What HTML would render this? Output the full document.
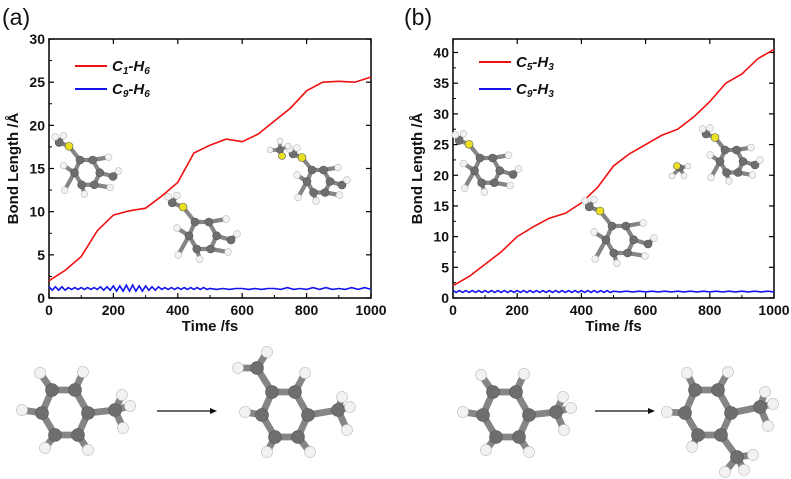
<!DOCTYPE html>
<html><head><meta charset="utf-8">
<style>
body{margin:0;background:#fff;}
svg{display:block;font-family:"Liberation Sans",sans-serif;}
.tk{font-size:14px;font-weight:bold;fill:#111;}
.ttl{font-size:15px;font-weight:bold;fill:#111;}
</style></head>
<body>
<svg id="fig" width="791" height="479" viewBox="0 0 791 479">
<text x="2" y="25" font-size="23" fill="#111">(a)</text>
<text x="404" y="25" font-size="23" fill="#111">(b)</text>
<g id="ca"></g>
<g id="cb"></g>
<g id="mols"></g>
</svg>
<script>
const timeA = [0,50,100,150,200,250,300,350,400,450,500,550,600,650,700,750,800,850,900,950,1000];
const c1h6 = [2,3.2,4.8,7.8,9.6,10.1,10.4,11.8,13.4,16.8,17.7,18.4,18.1,19.0,20.5,22.0,24.0,25.0,25.1,25.0,25.6];
const c5h3 = [2,3.5,5.5,7.5,10,11.6,13,13.8,15.5,18,21.5,23.5,25,26.5,27.5,29.5,32,35,36.5,39,40.5];
const timeB = [0,10,20,30,40,50,60,70,80,90,100,110,120,130,140,150,160,170,180,190,200,210,220,230,240,250,260,270,280,290,300,310,320,330,340,350,360,370,380,390,400,410,420,430,440,450,460,470,480,490,500,520,540,560,580,600,620,640,660,680,700,720,740,760,780,800,820,840,860,880,900,920,940,960,980,1000];
const c9h6 = [1.3,0.9,1.3,0.9,1.3,0.9,1.2,1.0,1.2,1.0,1.2,1.0,1.2,1.0,1.2,1.0,1.3,0.9,1.3,0.9,1.4,0.8,1.4,0.8,1.5,0.8,1.5,0.8,1.4,0.8,1.4,0.9,1.3,0.9,1.3,1.0,1.2,1.0,1.2,1.0,1.2,1.0,1.2,1.0,1.2,1.0,1.2,1.0,1.2,1.0,1.1,1.0,1.1,1.0,1.1,1.1,1.0,1.1,1.0,1.1,1.1,1.0,1.2,1.0,1.1,1.0,1.2,1.0,1.2,1.0,1.1,1.0,1.2,1.0,1.2,1.0];
const c9h3 = [1.2,0.9,1.2,0.9,1.2,0.9,1.2,0.9,1.2,0.9,1.2,0.9,1.2,0.9,1.2,0.9,1.2,0.9,1.2,0.9,1.2,0.9,1.2,0.9,1.2,0.9,1.2,0.9,1.2,0.9,1.2,0.9,1.2,0.9,1.2,0.9,1.2,0.9,1.2,0.9,1.2,0.9,1.2,0.9,1.2,0.9,1.2,0.9,1.2,0.9,1.1,1.0,1.1,1.0,1.1,1.0,1.1,1.0,1.1,1.0,1.1,1.0,1.1,1.0,1.1,1.0,1.1,1.0,1.1,1.0,1.1,1.0,1.1,1.0,1.1,1.0];
const xTicks = [0,200,400,600,800,1000];
const yTicksA = [0,5,10,15,20,25,30];
const yTicksB = [0,5,10,15,20,25,30,35,40];

const NS="http://www.w3.org/2000/svg";
function mk(tag,attrs,parent){const e=document.createElementNS(NS,tag);for(const k in attrs)e.setAttribute(k,attrs[k]);parent.appendChild(e);return e;}

function chart(g,cfg){
  const L=cfg.L,R=cfg.R,T=39,B=298;
  const sx=v=>L+(v-0)/1000*(R-L);
  const sy=v=>B-(v-cfg.ymin)/(cfg.ymax-cfg.ymin)*(B-T);
  const fr=mk('rect',{x:L,y:T,width:R-L,height:B-T,fill:'none',stroke:'#000','stroke-width':1.5},g);
  
  
  xTicks.forEach(v=>{
    mk('line',{x1:sx(v),x2:sx(v),y1:B,y2:B-5,stroke:'#000','stroke-width':1.2},g);
    mk('line',{x1:sx(v),x2:sx(v),y1:T,y2:T+5,stroke:'#000','stroke-width':1.2},g);
    if(v<1000){mk('line',{x1:sx(v+100),x2:sx(v+100),y1:B,y2:B-3,stroke:'#000'},g);}
    const t=mk('text',{x:sx(v),y:B+17,'text-anchor':'middle',class:'tk'},g);t.textContent=v;
    
    
  });
  cfg.yt.forEach((v,i)=>{
    mk('line',{x1:L,x2:L+5,y1:sy(v),y2:sy(v),stroke:'#000','stroke-width':1.2},g);
    mk('line',{x1:R,x2:R-5,y1:sy(v),y2:sy(v),stroke:'#000','stroke-width':1.2},g);
    if(i<cfg.yt.length-1){mk('line',{x1:L,x2:L+3,y1:sy(v+2.5),y2:sy(v+2.5),stroke:'#000'},g);}
    const t=mk('text',{x:L-4,y:sy(v)+5,'text-anchor':'end',class:'tk'},g);t.textContent=v;
    
    
  });
  const xt=mk('text',{x:(L+R)/2,y:331,'text-anchor':'middle',class:'ttl'},g);xt.textContent='Time /fs';
  
  
  const yt=mk('text',{x:0,y:0,'text-anchor':'middle',class:'ttl',transform:`translate(${L-31},${(T+B)/2}) rotate(-90)`},g);yt.textContent='Bond Length /Å';
  
  
  cfg.series.forEach(s=>{
    const d=s.x.map((t,i)=>(i?'L':'M')+sx(t).toFixed(1)+','+sy(s.y[i]).toFixed(1)).join('');
    const p=mk('path',{d:d,fill:'none',stroke:s.c,'stroke-width':1.6},g);
    
    
  });
  cfg.series.forEach((s,i)=>{
    const ly=cfg.legY[i];
    const ll=mk('line',{x1:L+26,x2:L+58,y1:ly,y2:ly,stroke:s.c,'stroke-width':2},g);
    
    
    const t=mk('text',{x:L+63,y:ly+5,'font-size':15,'font-weight':'bold','font-style':'italic',fill:'#111'},g);
    t.innerHTML=s.lab;
    
    
  });
}
const sub=(a,b,c,d)=>`${a}<tspan font-size="10" dy="3">${b}</tspan><tspan dy="-3">-${c}</tspan><tspan font-size="10" dy="3">${d}</tspan>`;
chart(document.getElementById('ca'),{L:49,R:371,ymin:0,ymax:30,yt:yTicksA,legY:[66,89],series:[
 {x:timeA,y:c1h6,c:'#f01010',name:'c1-h6',lab:sub('C','1','H','6')},
 {x:timeB,y:c9h6,c:'#1414f0',name:'c9-h6',lab:sub('C','9','H','6')}]});
chart(document.getElementById('cb'),{L:453,R:774,ymin:0,ymax:42.2,yt:yTicksB,legY:[62,89],series:[
 {x:timeA,y:c5h3,c:'#f01010',name:'c5-h3',lab:sub('C','5','H','3')},
 {x:timeB,y:c9h3,c:'#1414f0',name:'c9-h3',lab:sub('C','9','H','3')}]});

// molecules
const mg=document.getElementById('mols');
function mol(name,atoms,bonds,r){
  const g=mk('g',{},mg);
  
  
  bonds.forEach(([a,b])=>mk('line',{x1:atoms[a][0],y1:atoms[a][1],x2:atoms[b][0],y2:atoms[b][1],stroke:'#858585','stroke-width':r*1.05,'stroke-linecap':'round'},g));
  atoms.forEach(a=>{const col=a[2]==='C'?'#6e6e6e':a[2]==='S'?'#e8e020':'#f2f2f2';
    mk('circle',{cx:a[0],cy:a[1],r:a[2]==='H'?r*0.85:r,fill:col,stroke:a[2]==='H'?'#bbb':'#555','stroke-width':0.6},g);});
}
const RB=[[0,0],[23,0],[36,23],[26,45],[3,45],[-10,23]];
const RBONDS=[[0,1],[1,2],[2,3],[3,4],[4,5],[5,0]];
function draw(name,ox,oy,extra,eb,s,r){
  const atoms=RB.map(a=>[ox+a[0]*s,oy+a[1]*s,'C']).concat(extra.map(a=>[ox+a[0]*s,oy+a[1]*s,a[2]]));
  mol(name,atoms,RBONDS.concat(eb),r);
}
const tolEx=[[-12,-17,'H'],[31,-18,'H'],[-30,20,'H'],[-7,58,'H'],[36,60,'H'],[63,20,'C'],[70,5,'H'],[78,16,'H'],[71,38,'H']];
const tolB=[[0,6],[1,7],[5,8],[4,9],[3,10],[2,11],[11,12],[11,13],[11,14]];
draw('toluene-a',52,390,tolEx,tolB,1,6.5);
draw('toluene-b',493,392,tolEx,tolB,1,6.5);
draw('xylene-a',272,392,[[-15,-24,'C'],[-5,-40,'H'],[-34,-24,'H'],[33,-19,'H'],[-27,20,'H'],[66,18,'C'],[70,5,'H'],[78,15,'H'],[75,38,'H'],[-5,60,'H'],[38,60,'H']],
 [[0,6],[6,7],[6,8],[1,9],[5,10],[2,11],[11,12],[11,13],[11,14],[4,15],[3,16]],1,6.5);
draw('xylene-b',695,390,[[-8,-17,'H'],[33,-18,'H'],[-28,22,'H'],[-3,57,'H'],[65,17,'C'],[70,2,'H'],[78,14,'H'],[73,36,'H'],[42,67,'C'],[30,82,'H'],[58,65,'H'],[49,80,'H']],
 [[0,6],[1,7],[5,8],[4,9],[2,10],[10,11],[10,12],[10,13],[3,14],[14,15],[14,16],[14,17]],1,6.5);
[[157,217,'reaction-arrow-a'],[595,655,'reaction-arrow-b']].forEach(([x1,x2,n])=>{
  const l=mk('line',{x1:x1,x2:x2-5,y1:411,y2:411,stroke:'#111','stroke-width':1.3},mg);
  
  
  mk('polygon',{points:`${x2},411 ${x2-7},408 ${x2-7},414`,fill:'#111'},mg);
});
const insEx=[[-20,-25,'S'],[-38,-32,'C'],[-45,-42,'H'],[-30,-44,'H'],[52,-5,'H'],[55,50,'H'],[-28,55,'H'],[8,62,'H'],[60,30,'C'],[70,20,'H'],[-30,10,'H']];
const insB=[[0,6],[6,7],[7,8],[7,9],[1,10],[3,11],[5,12],[4,13],[2,14],[14,15],[5,16]];
function inset(name,ox,oy,s){ draw(name,ox,oy,insEx,insB,s,4); }
inset('snapshot-a1',80,160,0.55);
inset('snapshot-a2',195,222,0.6);
inset('snapshot-a3',312,170,0.5);
inset('snapshot-b1',480,158,0.55);
inset('snapshot-b2',612,226,0.6);
inset('snapshot-b3',725,150,0.5);
mol('methyl-fragment-a',[[280,150,'C'],[282,156,'S'],[270,150,'H'],[280,141,'H'],[288,146,'H']],[[0,1],[0,2],[0,3],[0,4]],3.5);
mol('methyl-fragment-b',[[680,168,'C'],[677,166,'S'],[688,166,'H'],[684,176,'H'],[672,176,'H']],[[0,2],[0,3],[0,4]],3.5);
</script>
</body></html>
